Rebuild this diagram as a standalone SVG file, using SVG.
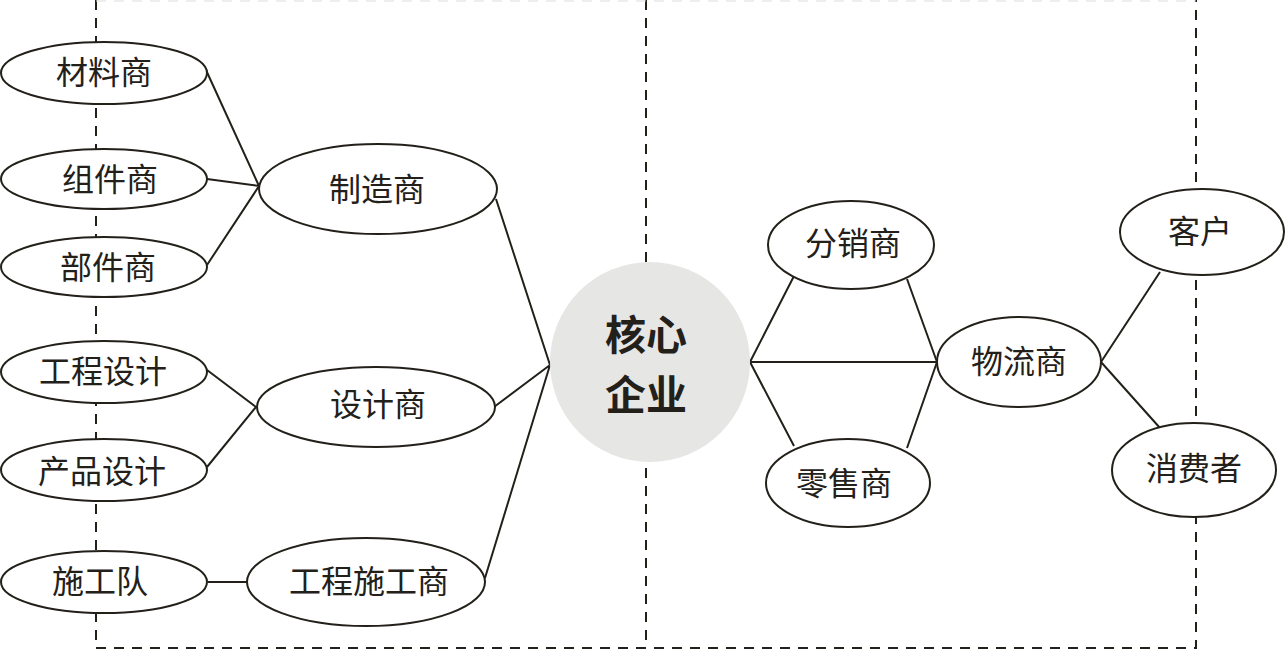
<svg xmlns="http://www.w3.org/2000/svg" width="1287" height="651" viewBox="0 0 1287 651">
<style>
.n{fill:#fff;stroke:#23201a;stroke-width:2}
.t{font-family:"Liberation Serif","Noto Sans CJK SC",serif;font-size:32px;fill:#23201a;text-anchor:middle;dominant-baseline:central}
.c{font-family:"Noto Sans CJK SC",sans-serif;font-size:41px;font-weight:bold;fill:#23201a;text-anchor:middle}
.l{stroke:#23201a;stroke-width:2;fill:none}
.d{stroke:#23201a;stroke-width:2;fill:none;stroke-dasharray:10 8}
</style>
<rect width="1287" height="651" fill="#fff"/>
<g id="frame">
<path class="d" d="M96 0V648H1196V0"/>
<path class="d" d="M646 0V648"/>
<path d="M96 1H1196" stroke="#ddd" stroke-width="1" stroke-dasharray="10 8"/>
</g>
<g id="connectors">
<path class="l" d="M206 70L259 186M207 179L259 186M207 265L259 186"/>
<path class="l" d="M496 199L550 365M494 407L550 365M485 578L550 365"/>
<path class="l" d="M207 370L256 407M207 467L256 407"/>
<path class="l" d="M208 582H247"/>
<path class="l" d="M750 362L794 276M750 362L794 446M750 362H937"/>
<path class="l" d="M907 279L937 362M907 448L937 362"/>
<path class="l" d="M1101 362L1160 272M1101 362L1160 428"/>
</g>
<g id="n-cailiao"><ellipse class="n" cx="104" cy="73" rx="103" ry="31"/><text class="t" x="104" y="73">材料商</text></g>
<g id="n-zujian"><ellipse class="n" cx="104" cy="179" rx="103" ry="30"/><text class="t" x="110" y="180">组件商</text></g>
<g id="n-bujian"><ellipse class="n" cx="104" cy="267" rx="103" ry="30"/><text class="t" x="108" y="268">部件商</text></g>
<g id="n-zhizao"><ellipse class="n" cx="378" cy="189" rx="119" ry="45"/><text class="t" x="377" y="190">制造商</text></g>
<g id="n-gcsj"><ellipse class="n" cx="104" cy="372" rx="103" ry="31"/><text class="t" x="103" y="372">工程设计</text></g>
<g id="n-cpsj"><ellipse class="n" cx="104" cy="470" rx="103" ry="31"/><text class="t" x="102" y="472">产品设计</text></g>
<g id="n-sheji"><ellipse class="n" cx="376" cy="407" rx="119" ry="40"/><text class="t" x="378" y="405">设计商</text></g>
<g id="n-sgd"><ellipse class="n" cx="104" cy="582" rx="103" ry="31"/><text class="t" x="100" y="582">施工队</text></g>
<g id="n-gcsg"><ellipse class="n" cx="366" cy="582" rx="119" ry="44"/><text class="t" x="369" y="582">工程施工商</text></g>
<g id="n-core"><circle cx="650" cy="362" r="100" fill="#e6e6e5"/><text class="c"><tspan x="646" y="350">核心</tspan><tspan x="646" y="410">企业</tspan></text></g>
<g id="n-fenxiao"><ellipse class="n" cx="851" cy="245" rx="83" ry="44"/><text class="t" x="853" y="244">分销商</text></g>
<g id="n-wuliu"><ellipse class="n" cx="1019" cy="362" rx="82" ry="45"/><text class="t" x="1019" y="362">物流商</text></g>
<g id="n-lingshou"><ellipse class="n" cx="848" cy="483" rx="82" ry="44"/><text class="t" x="844" y="484">零售商</text></g>
<g id="n-kehu"><ellipse class="n" cx="1202" cy="232" rx="82" ry="43"/><text class="t" x="1200" y="232">客户</text></g>
<g id="n-xfz"><ellipse class="n" cx="1194" cy="470" rx="82" ry="47"/><text class="t" x="1194" y="469">消费者</text></g>
</svg>
